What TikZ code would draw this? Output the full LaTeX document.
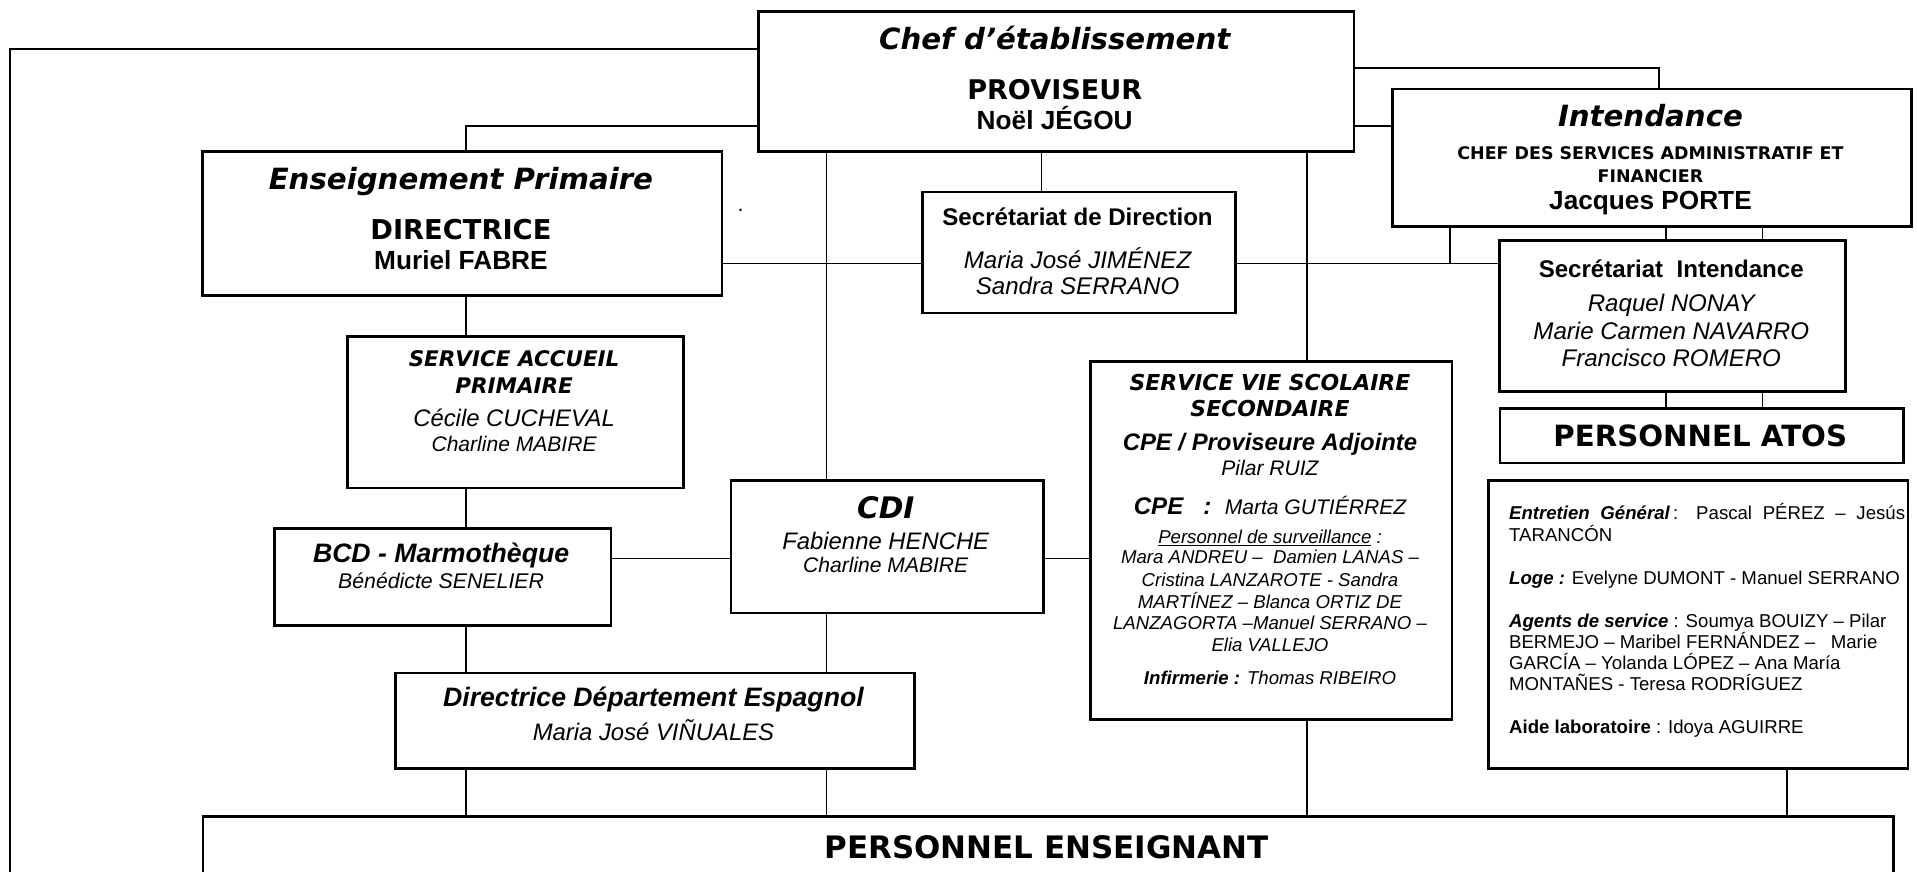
\documentclass[tikz,border=0pt]{standalone}
\usepackage{fontspec}
\setmainfont{Liberation Sans}
\newfontfamily\verd{DejaVu Sans}
\newcommand{\fsz}[1]{\fontsize{#1}{#1}\selectfont}
\newcommand{\undl}[1]{\setbox0\hbox{#1}\rlap{\rule[-0.55pt]{\wd0}{0.2pt}}\box0}
\tikzset{
  box/.style={draw,line width=0.6pt,rectangle,anchor=north west,inner sep=0pt},
  link/.style={line width=0.35pt},
  txt/.style={anchor=base,inner sep=0pt},
  txtl/.style={anchor=base west,inner sep=0pt},
  vbi/.style={font=\verd\bfseries\itshape\fsz{#1}},
  vb/.style={font=\verd\bfseries\fsz{#1}},
  ab/.style={font=\bfseries\fsz{#1}},
  abi/.style={font=\bfseries\itshape\fsz{#1}},
  ai/.style={font=\itshape\fsz{#1}},
  ar/.style={font=\fsz{#1}},
}
\begin{document}
\begin{tikzpicture}[x=0.01cm,y=-0.01cm]
        \useasboundingbox (0,0) rectangle (1568,713);
        \clip (0,0) rectangle (1568,713);
        %% Boxes
        \node[box,minimum width=4.867cm,minimum height=1.145cm] (chef) at (619.3,8.2) {};
        \node[box,minimum width=4.247cm,minimum height=1.178cm] (ensp) at (164.7,122.7) {};
        \node[box,minimum width=2.558cm,minimum height=0.989cm] (secd) at (753.5,156) {};
        \node[box,minimum width=4.240cm,minimum height=1.124cm] (inten) at (1138,71.6) {};
        \node[box,minimum width=2.828cm,minimum height=1.232cm] (seci) at (1225.6,195.8) {};
        \node[box,minimum width=3.299cm,minimum height=0.444cm] (atos) at (1225.8,333.2) {};
        \node[box,minimum width=3.430cm,minimum height=2.356cm] (atosd) at (1216.5,392) {};
        \node[box,minimum width=2.956cm,minimum height=2.927cm] (vie) at (891,294.5) {};
        \node[box,minimum width=2.747cm,minimum height=1.240cm] (accueil) at (283.2,274) {};
        \node[box,minimum width=2.751cm,minimum height=0.791cm] (bcd) at (223.3,431.3) {};
        \node[box,minimum width=2.555cm,minimum height=1.083cm] (cdi) at (596.8,392) {};
        \node[box,minimum width=4.239cm,minimum height=0.780cm] (dird) at (322.6,549.4) {};
        \node[box,minimum width=13.82cm,minimum height=1.000cm] (ens) at (165,667) {};
        %% Columns and rows of the links
        \coordinate (cA) at (381,0);
        \coordinate (cB) at (676,0);
        \coordinate (cC) at (852,0);
        \coordinate (cD) at (1069,0);
        \coordinate (cE) at (1186,0);
        \coordinate (cF) at (1362.6,0);
        \coordinate (cG) at (1441.5,0);
        \coordinate (cH) at (1461.5,0);
        \coordinate (cI) at (1357,0);
        \coordinate (rA) at (0,103);
        \coordinate (rB) at (0,55.6);
        \coordinate (rC) at (0,215.4);
        \coordinate (rD) at (0,456.7);
        \coordinate (tl) at (8,40);
        \coordinate (bl) at (8,720);
        %% Links
        \draw[link] (bl) -- (tl) -- (tl -| chef.west);
        \draw[link] (chef.west |- rA) -| (cA |- ensp.north);
        \draw[link] (chef.east |- rB) -| (cI |- inten.north);
        \draw[link] (chef.east |- rA) -- (inten.west |- rA);
        \draw[link] (cB |- chef.south) -- (cB |- cdi.north);
        \draw[link] (cC |- chef.south) -- (cC |- secd.north);
        \draw[link] (cD |- chef.south) -- (cD |- vie.north);
        \draw[link] (ensp.east |- rC) -- (secd.west |- rC);
        \draw[link] (secd.east |- rC) -- (seci.west |- rC);
        \draw[link] (cE |- inten.south) -- (cE |- rC);
        \draw[link] (cF |- inten.south) -- (cF |- seci.north);
        \draw[link] (cG |- inten.south) -- (cG |- seci.north);
        \draw[link] (cF |- seci.south) -- (cF |- atos.north);
        \draw[link] (cG |- seci.south) -- (cG |- atos.north);
        \draw[link] (cA |- ensp.south) -- (cA |- accueil.north);
        \draw[link] (cA |- accueil.south) -- (cA |- bcd.north);
        \draw[link] (cA |- bcd.south) -- (cA |- dird.north);
        \draw[link] (cA |- dird.south) -- (cA |- ens.north);
        \draw[link] (cB |- cdi.south) -- (cB |- dird.north);
        \draw[link] (cB |- dird.south) -- (cB |- ens.north);
        \draw[link] (cD |- vie.south) -- (cD |- ens.north);
        \draw[link] (cH |- atosd.south) -- (cH |- ens.north);
        \draw[link] (bcd.east |- rD) -- (cdi.west |- rD);
        \draw[link] (cdi.east |- rD) -- (vie.west |- rD);
        %% Chef d'etablissement
        \node[txt,vbi=6.8] (chefA) at (862.7,40.9) {Chef d’établissement};
        \node[txt,vb=6.3] (chefB) at (862.7,81.2) {PROVISEUR};
        \node[txt,ab=6.1] (chefC) at (862.7,105.8) {Noël JÉGOU};
        %% Enseignement primaire
        \node[txt,vbi=6.8] (enspA) at (377,155.4) {Enseignement Primaire};
        \node[txt,vb=6.35] (enspB) at (377,195.8) {DIRECTRICE};
        \node[txt,ab=6.1] (enspC) at (377,220.8) {Muriel FABRE};
        \node[txt,ar=5] (dot) at (605.8,173) {.};
        %% Intendance
        \node[txt,vbi=6.8] (intenA) at (1350,103.6) {Intendance};
        \node[txt,vb=4.05] (intenB) at (1350,130.3) {CHEF DES SERVICES ADMINISTRATIF ET};
        \node[txt,vb=4.05] (intenC) at (1350,149.4) {FINANCIER};
        \node[txt,ab=6.1] (intenD) at (1350,171) {Jacques PORTE};
        %% Secretariats
        \node[txt,ab=5.6] (secdA) at (881.4,184.5) {Secrétariat de Direction};
        \node[txt,ai=5.6] (secdB) at (881.4,220) {Maria José JIMÉNEZ};
        \node[txt,ai=5.6] (secdC) at (881.4,240.5) {Sandra SERRANO};
        \node[txt,ab=5.6] (seciA) at (1367,227.1) {Secrétariat\ \ Intendance};
        \node[txt,ai=5.6] (seciB) at (1367,254.9) {Raquel NONAY};
        \node[txt,ai=5.6] (seciC) at (1367,278.1) {Marie Carmen NAVARRO};
        \node[txt,ai=5.6] (seciD) at (1367,299.9) {Francisco ROMERO};
        %% Personnel ATOS
        \node[txt,vb=6.8] (atosA) at (1390.7,365.4) {PERSONNEL ATOS};
        \node[txtl,ar=4.33] (atosdA) at (1233.7,425.3) {\makebox[3.237cm][s]{\textbf{\textit{Entretien Général}}\,: Pascal PÉREZ – Jesús}};
        \node[txtl,ar=4.33] (atosdB) at (1233.7,443.1) {TARANCÓN};
        \node[txtl,ar=4.33] (atosdC) at (1233.7,478.5) {\textbf{\textit{Loge :}} Evelyne DUMONT - Manuel SERRANO};
        \node[txtl,ar=4.33] (atosdD) at (1233.7,513.4) {\textbf{\textit{Agents de service}} : Soumya BOUIZY – Pilar};
        \node[txtl,ar=4.33] (atosdE) at (1233.7,530.3) {BERMEJO – Maribel FERNÁNDEZ –\ \ \ Marie};
        \node[txtl,ar=4.33] (atosdF) at (1233.7,548) {GARCÍA – Yolanda LÓPEZ – Ana María};
        \node[txtl,ar=4.33] (atosdG) at (1233.7,565.2) {MONTAÑES - Teresa RODRÍGUEZ};
        \node[txtl,ar=4.33] (atosdH) at (1233.7,599.8) {\textbf{Aide laboratoire} : Idoya AGUIRRE};
        %% Vie scolaire
        \node[txt,vbi=5.1] (vieA) at (1038.8,319.5) {SERVICE VIE SCOLAIRE};
        \node[txt,vbi=5.1] (vieB) at (1038.8,340.8) {SECONDAIRE};
        \node[txt,abi=5.55] (vieC) at (1038.8,368.9) {CPE / Proviseure Adjointe};
        \node[txt,ai=4.9] (vieD) at (1038.8,389.3) {Pilar RUIZ};
        \node[txt,abi=5.6] (vieE) at (1038.8,421.2) {CPE\ \ \ :\ \ {\mdseries\fsz{4.9}Marta GUTIÉRREZ}};
        \node[txt,ai=4.33] (vieF) at (1038.8,444.9) {\undl{Personnel de surveillance}\ :};
        \node[txt,ai=4.33] (vieG) at (1038.8,461.3) {Mara ANDREU –\ \ Damien LANAS –};
        \node[txt,ai=4.33] (vieH) at (1038.8,479.8) {Cristina LANZAROTE - Sandra};
        \node[txt,ai=4.33] (vieI) at (1038.8,497.6) {MARTÍNEZ – Blanca ORTIZ DE};
        \node[txt,ai=4.33] (vieJ) at (1038.8,515.3) {LANZAGORTA –Manuel SERRANO –};
        \node[txt,ai=4.33] (vieK) at (1038.8,533) {Elia VALLEJO};
        \node[txt,ai=4.33] (vieL) at (1038.8,560.3) {\textbf{Infirmerie :} Thomas RIBEIRO};
        %% Primaire side
        \node[txt,vbi=5.0] (accueilA) at (420.5,299.9) {SERVICE ACCUEIL};
        \node[txt,vbi=5.0] (accueilB) at (420.5,321.7) {PRIMAIRE};
        \node[txt,ai=5.55] (accueilC) at (420.5,349) {Cécile CUCHEVAL};
        \node[txt,ai=4.9] (accueilD) at (420.5,369.4) {Charline MABIRE};
        \node[txt,abi=6.2] (bcdA) at (360.8,460.2) {BCD - Marmothèque};
        \node[txt,ai=4.95] (bcdB) at (360.8,481.2) {Bénédicte SENELIER};
        \node[txt,vbi=6.9] (cdiA) at (724.5,424.5) {CDI};
        \node[txt,ai=5.55] (cdiB) at (724.5,449.3) {Fabienne HENCHE};
        \node[txt,ai=4.9] (cdiC) at (724.5,468.4) {Charline MABIRE};
        \node[txt,abi=6.2] (dirdA) at (534.5,578) {Directrice Département Espagnol};
        \node[txt,ai=5.55] (dirdB) at (534.5,605.8) {Maria José VIÑUALES};
        %% Personnel enseignant
        \node[txt,vb=7.2] (ensA) at (856,702) {PERSONNEL ENSEIGNANT};
    \end{tikzpicture}
\end{document}
